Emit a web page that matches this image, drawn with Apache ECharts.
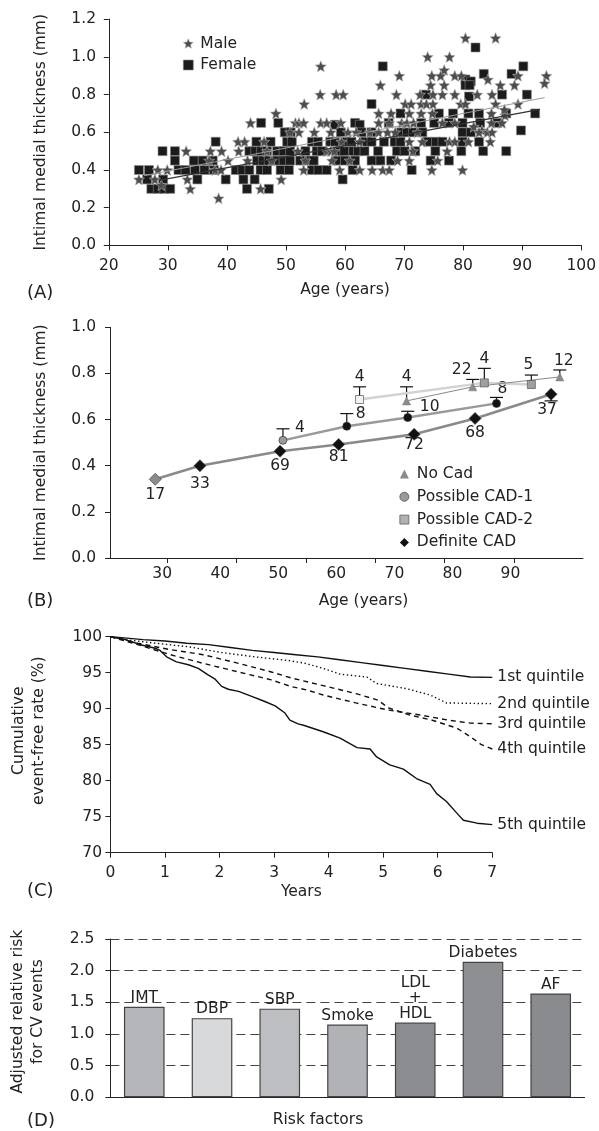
<!DOCTYPE html>
<html>
<head>
<meta charset="utf-8">
<title>Intimal medial thickness and cardiovascular risk</title>
<script src="https://cdn.jsdelivr.net/npm/echarts@6/dist/echarts.min.js"></script>
<style>
  html, body { margin: 0; padding: 0; background: #fff; }
  #chart { width: 599px; height: 1131px; }
</style>
</head>
<body>
<div id="chart"></div>
<script>
// ---------- (A) IMT against age, by sex ----------
const maleAge = [
  80.4, 85.5, 74.0, 77.7, 55.9, 76.8, 69.2, 74.7, 76.2, 78.6, 79.7, 89.3, 94.1, 84.2, 66.0, 74.5, 76.8, 86.3, 88.7, 93.8,
  55.8, 58.5, 59.7, 68.7, 72.7, 74.9, 76.5, 78.6, 82.4, 84.9,
  53.1, 70.2, 71.2, 72.9, 73.8, 74.9, 79.6, 80.4, 85.5, 89.3,
  48.3, 65.7, 67.8, 70.9, 72.9, 74.8, 84.8, 87.1, 87.0,
  44.0, 51.6, 52.2, 53.0, 55.9, 56.9, 59.3, 65.7, 67.5, 69.6, 70.5, 71.6, 76.5, 78.6, 84.8, 86.6,
  81.8, 83.2,
  50.7, 52.2, 54.8, 57.6, 60.5, 61.9, 64.2, 65.7, 67.2, 68.5, 72.3, 82.7, 84.1, 84.9,
  41.9, 43.0, 46.3, 59.4, 62.5, 70.9, 73.1, 77.7, 78.6, 80.9, 84.6,
  33.1, 37.2, 39.1, 42.0, 46.8, 52.0, 56.9, 57.6, 58.2, 71.5, 77.3,
  37.0, 40.2, 43.5, 47.6, 53.3, 57.8, 60.8, 68.9, 70.9, 75.7,
  28.3, 29.9, 38.0, 39.0, 53.0, 59.1, 62.5, 64.6, 66.4, 67.5, 74.7, 79.9,
  25.1, 27.8, 33.3, 49.2, 28.9, 33.8, 45.7, 38.6
];
const maleImt = [
  1.10, 1.10, 1.00, 1.00, 0.95, 0.93, 0.90, 0.90, 0.90, 0.90, 0.90, 0.90, 0.90, 0.88, 0.85, 0.85, 0.85, 0.85, 0.85, 0.86,
  0.80, 0.80, 0.80, 0.80, 0.80, 0.80, 0.80, 0.80, 0.80, 0.80,
  0.75, 0.75, 0.75, 0.75, 0.75, 0.75, 0.75, 0.75, 0.75, 0.75,
  0.70, 0.70, 0.70, 0.70, 0.70, 0.70, 0.70, 0.69, 0.72,
  0.65, 0.65, 0.65, 0.65, 0.65, 0.65, 0.65, 0.65, 0.65, 0.65, 0.65, 0.65, 0.65, 0.65, 0.65, 0.65,
  0.63, 0.61,
  0.60, 0.60, 0.60, 0.60, 0.60, 0.60, 0.60, 0.60, 0.60, 0.60, 0.60, 0.60, 0.60, 0.60,
  0.55, 0.55, 0.55, 0.55, 0.55, 0.55, 0.55, 0.55, 0.55, 0.55, 0.55,
  0.50, 0.50, 0.50, 0.50, 0.50, 0.50, 0.50, 0.50, 0.50, 0.50, 0.50,
  0.45, 0.45, 0.45, 0.45, 0.45, 0.45, 0.45, 0.45, 0.45, 0.45,
  0.40, 0.40, 0.40, 0.40, 0.40, 0.40, 0.40, 0.40, 0.40, 0.40, 0.40, 0.40,
  0.35, 0.35, 0.35, 0.35, 0.32, 0.30, 0.30, 0.25
];
const femaleAge = [
  82.1, 66.4, 90.2, 83.5, 88.2, 80.4, 81.3, 80.4, 81.1,
  73.7, 81.0, 86.6, 90.8, 64.5,
  69.4, 75.9, 78.3, 80.9, 82.7, 87.3, 92.2,
  45.8, 48.7, 61.7, 67.4, 72.9, 75.1, 77.6, 79.9, 82.9, 85.8, 58.3, 62.5,
  49.8, 50.8, 59.3, 62.8, 64.5, 69.5, 70.5, 71.5, 73.1, 79.9, 81.3, 89.8,
  38.1, 45.0, 47.4, 50.2, 51.0, 54.4, 55.4, 57.5, 58.3, 60.1, 61.1, 63.3, 64.5, 66.6, 68.4, 69.4, 74.0, 75.4, 76.5, 79.9, 82.7,
  29.1, 31.2, 43.8, 44.8, 45.8, 46.8, 48.5, 49.6, 50.7, 53.3, 55.2, 56.1, 58.9, 59.9, 61.4, 62.2, 63.3, 65.6, 68.8, 70.1, 71.9, 75.3, 79.7, 83.4, 87.3,
  31.2, 34.4, 35.9, 37.6, 45.1, 46.1, 47.1, 48.2, 49.6, 50.7, 52.4, 53.5, 54.7, 58.6, 60.0, 61.7, 64.5, 66.0, 67.8, 74.5, 77.6,
  25.1, 26.8, 31.8, 33.0, 34.6, 36.2, 37.8, 41.5, 42.6, 43.8, 45.7, 46.8, 49.1, 50.5, 54.4, 55.5, 56.9, 61.3, 71.3,
  26.5, 29.2, 35.0, 39.8, 42.8, 44.7, 59.6,
  27.2, 28.3, 29.4, 30.4, 43.4, 47.1
];
const femaleImt = [
  1.05, 0.95, 0.95, 0.91, 0.91, 0.88, 0.87, 0.85, 0.85,
  0.80, 0.79, 0.80, 0.80, 0.75,
  0.70, 0.70, 0.70, 0.70, 0.70, 0.70, 0.70,
  0.65, 0.65, 0.65, 0.65, 0.65, 0.65, 0.65, 0.65, 0.65, 0.65, 0.64, 0.64,
  0.60, 0.60, 0.60, 0.60, 0.60, 0.60, 0.60, 0.60, 0.60, 0.60, 0.60, 0.61,
  0.55, 0.55, 0.55, 0.55, 0.55, 0.55, 0.55, 0.55, 0.55, 0.55, 0.55, 0.55, 0.55, 0.55, 0.55, 0.55, 0.55, 0.55, 0.55, 0.55, 0.55,
  0.50, 0.50, 0.50, 0.50, 0.50, 0.50, 0.50, 0.50, 0.50, 0.50, 0.50, 0.50, 0.50, 0.50, 0.50, 0.50, 0.50, 0.50, 0.50, 0.50, 0.50, 0.50, 0.50, 0.50, 0.50,
  0.45, 0.45, 0.45, 0.45, 0.45, 0.45, 0.45, 0.45, 0.45, 0.45, 0.45, 0.45, 0.45, 0.45, 0.45, 0.45, 0.45, 0.45, 0.45, 0.45, 0.45,
  0.40, 0.40, 0.40, 0.40, 0.40, 0.40, 0.40, 0.40, 0.40, 0.40, 0.40, 0.40, 0.40, 0.40, 0.40, 0.40, 0.40, 0.40, 0.40,
  0.35, 0.35, 0.35, 0.35, 0.35, 0.35, 0.35,
  0.30, 0.30, 0.30, 0.30, 0.30, 0.30
];
// fitted regression lines (end points)
const maleFitAge = [26.0, 93.8];
const maleFitImt = [0.370, 0.784];
const femaleFitAge = [28.5, 93.0];
const femaleFitImt = [0.345, 0.722];

// ---------- (B) IMT by age group and CAD status ----------
const noCadAge = [72.1, 83.5, 98.5];
const noCadImt = [0.681, 0.742, 0.785];
const noCadBar = [0.742, 0.774, 0.815];
const noCadN = [4, 22, 12];

const cad1Age = [50.8, 61.8, 72.3, 87.6];
const cad1Imt = [0.510, 0.571, 0.609, 0.670];
const cad1Bar = [0.560, 0.626, 0.636, 0.696];
const cad1N = [4, 8, 10, 8];

const cad2Age = [64.0, 85.5, 93.6];
const cad2Imt = [0.687, 0.759, 0.752];
const cad2Bar = [0.742, 0.822, 0.793];
const cad2N = [4, 4, 5];

const defAge = [28.8, 36.5, 50.3, 60.4, 73.4, 83.9, 97.0];
const defImt = [0.341, 0.400, 0.463, 0.492, 0.536, 0.605, 0.710];
const defBar = [null, null, null, null, null, null, 0.681];
const defN = [17, 33, 69, 81, 72, 68, 37];

const ageLabelsB = [30, 40, 50, 60, 70, 80, 90];

// ---------- (C) cumulative event-free rate by IMT quintile ----------
const q1Years = [0, 0.3, 0.6, 1.0, 1.4, 1.8, 2.2, 2.6, 3.0, 3.4, 3.8, 4.2, 4.6, 5.0, 5.4, 5.8, 6.2, 6.6, 7.0];
const q1Rate  = [100, 99.8, 99.6, 99.4, 99.1, 98.9, 98.5, 98.1, 97.8, 97.5, 97.2, 96.8, 96.4, 96.0, 95.6, 95.2, 94.8, 94.4, 94.35];
const q2Years = [0, 0.27, 0.82, 1.43, 2.04, 2.65, 3.26, 3.57, 3.90, 4.21, 4.70, 4.88, 5.42, 5.86, 6.16, 7.0];
const q2Rate  = [100, 99.6, 99.1, 98.6, 97.8, 97.2, 96.7, 96.3, 95.6, 94.8, 94.4, 93.5, 92.8, 91.9, 90.8, 90.7];
const q3Years = [0, 0.5, 1.1, 1.7, 2.35, 2.95, 3.3, 3.6, 3.9, 4.5, 5.1, 5.7, 6.2, 6.6, 7.0];
const q3Rate  = [100, 98.9, 97.5, 96.3, 95.1, 94.0, 93.1, 92.6, 91.9, 90.8, 89.8, 89.1, 88.4, 88.0, 87.9];
const q4Years = [0, 0.5, 1.1, 1.7, 2.35, 2.95, 3.3, 3.9, 4.5, 4.9, 5.1, 5.5, 5.9, 6.35, 6.6, 6.8, 7.0];
const q4Rate  = [100, 99.1, 98.2, 97.5, 96.3, 95.1, 94.3, 93.2, 92.1, 91.2, 90.1, 89.1, 88.4, 87.3, 86.1, 85.0, 84.4];
const q5Years = [0, 0.27, 0.57, 0.82, 0.91, 1.03, 1.21, 1.43, 1.61, 1.79, 1.92, 2.04, 2.16, 2.35, 2.59, 2.83, 3.02, 3.20,
                 3.29, 3.44, 3.54, 3.90, 4.21, 4.52, 4.76, 4.88, 5.12, 5.37, 5.61, 5.86, 5.98, 6.16, 6.35, 6.47, 6.72, 7.0];
const q5Rate  = [100, 99.6, 98.85, 98.4, 98.1, 97.2, 96.5, 96.1, 95.6, 94.7, 94.1, 93.1, 92.7, 92.4, 91.7, 91.0, 90.4, 89.4,
                 88.4, 87.9, 87.7, 86.8, 85.9, 84.6, 84.4, 83.3, 82.2, 81.6, 80.3, 79.5, 78.2, 77.1, 75.5, 74.5, 74.1, 73.9];

// ---------- (D) adjusted relative risk ----------
const riskFactors = ['IMT', 'DBP', 'SBP', 'Smoke', 'LDL\n+\nHDL', 'Diabetes', 'AF'];
const relativeRisk = [1.43, 1.25, 1.40, 1.15, 1.18, 2.14, 1.64];

// ---------- styling ----------
const FONT = 'DejaVu Sans';
const INK = '#222';
const FS = 15.5;
const barFills = ['#b5b6b9', '#d8d9db', '#bdbec1', '#b1b2b5', '#8b8c8f', '#8e8f92', '#8a8b8e'];

// label placement for the count labels in (B): offset from the bar end (or marker)
const noCadLabelPos = [[0, -10], [-11, -9], [4, -9]];
const cad1LabelPos = [[17, -1], [14, 0], [22, -4], [6, -8]];
const cad2LabelPos = [[0, -10], [0, -9.5], [-3, -10]];
const defLabelPos = [[0, 16], [0, 18], [0, 15], [0, 12.5], [0, 11], [0, 14.5], [-4, 9]];
// tick marks of the (B) age axis
const bTickStart = 30.83, bTickStep = 11.95;
const bTicks = Array.from({ length: 7 }, (_, i) => +(bTickStart + i * bTickStep).toFixed(2));

function starPath() {
  let d = '';
  for (let i = 0; i < 10; i++) {
    const r = i % 2 ? 22.5 : 50;
    const a = (-90 + i * 36) * Math.PI / 180;
    d += (i ? 'L' : 'M') + (50 + r * Math.cos(a)).toFixed(1) + ' ' + (50 + r * Math.sin(a)).toFixed(1);
  }
  return 'path://' + d + 'Z';
}
const STAR = starPath();

const zip = (xs, ys) => xs.map((x, i) => [x, ys[i]]);

const axisLine = { show: true, onZero: false, lineStyle: { color: INK, width: 1 } };
const axisTick = { show: true, inside: false, length: 5, lineStyle: { color: INK, width: 1 } };
const labelBase = { color: INK, fontSize: FS, fontFamily: FONT };
const nameBase = { color: INK, fontSize: FS, fontFamily: FONT };

function errorBarSeries(name, ages, imt, ends, counts, placement) {
  return {
    type: 'custom', name, xAxisIndex: 1, yAxisIndex: 1, z: 2, silent: true,
    data: zip(ages, imt),
    renderItem(params, api) {
      const i = params.dataIndex;
      const p = api.coord([api.value(0), api.value(1)]);
      const children = [];
      let anchor = p;
      if (ends[i] != null) {
        const q = api.coord([api.value(0), ends[i]]);
        const st = { stroke: '#111', lineWidth: 1.2 };
        children.push({ type: 'line', shape: { x1: p[0], y1: p[1], x2: q[0], y2: q[1] }, style: st });
        children.push({ type: 'line', shape: { x1: q[0] - 6.5, y1: q[1], x2: q[0] + 6.5, y2: q[1] }, style: st });
        anchor = q;
      }
      const o = placement[i];
      children.push({
        type: 'text', x: anchor[0] + o[0], y: anchor[1] + o[1],
        style: { text: String(counts[i]), fill: INK, fontSize: FS, fontFamily: FONT, align: 'center', verticalAlign: 'middle' }
      });
      return { type: 'group', children };
    }
  };
}

function groupLine(name, ages, imt, symbol, size, firstColor, restColor, border, lineStyle) {
  return {
    type: 'line', name, xAxisIndex: 1, yAxisIndex: 1, z: 4, silent: true,
    data: zip(ages, imt), symbol, symbolSize: size, showAllSymbol: true,
    itemStyle: { color: (p) => (p.dataIndex === 0 ? firstColor : restColor), borderColor: border, borderWidth: 0.7 },
    lineStyle
  };
}

function quintile(name, years, rate, dash) {
  return {
    type: 'line', name, xAxisIndex: 2, yAxisIndex: 2, silent: true,
    data: zip(years, rate), symbol: 'none',
    lineStyle: { color: '#111', width: 1.4, type: dash },
    endLabel: { show: true, formatter: '{a}', distance: 5, color: INK, fontSize: FS, fontFamily: FONT }
  };
}

const option = {
  animation: false,
  backgroundColor: '#fff',
  textStyle: { fontFamily: FONT },
  grid: [
    { left: 108.8, top: 19.2, width: 475.8, height: 226.2 },
    { left: 110, top: 327.3, width: 473, height: 230.7 },
    { left: 110.4, top: 636.7, width: 381.9, height: 216 },
    { left: 110.4, top: 939, width: 474.2, height: 158.3 }
  ],
  xAxis: [
    { gridIndex: 0, type: 'value', min: 20, max: 100, interval: 10, axisLine, axisTick,
      axisLabel: { ...labelBase, margin: 13 }, splitLine: { show: false },
      name: 'Age (years)', nameLocation: 'middle', nameGap: 37, nameTextStyle: nameBase },
    { gridIndex: 1, type: 'value', min: 21, max: 102.5, axisLine,
      axisTick: { ...axisTick, customValues: bTicks },
      axisLabel: { ...labelBase, margin: 8, customValues: ageLabelsB }, splitLine: { show: false },
      name: 'Age (years)', nameLocation: 'middle', nameGap: 35, nameTextStyle: { ...nameBase, padding: [0, 0, 0, 34] } },
    { gridIndex: 2, type: 'value', min: 0, max: 7, interval: 1, axisLine, axisTick,
      axisLabel: { ...labelBase, margin: 12 }, splitLine: { show: false },
      name: 'Years', nameLocation: 'middle', nameGap: 31, nameTextStyle: nameBase },
    { gridIndex: 3, type: 'category', data: riskFactors, axisLine, axisTick: { show: false },
      axisLabel: { show: false }, splitLine: { show: false },
      name: 'Risk factors', nameLocation: 'middle', nameGap: 15, nameTextStyle: { ...nameBase, padding: [0, 59, 0, 0] } }
  ],
  yAxis: [
    { gridIndex: 0, type: 'value', min: 0, max: 1.2, interval: 0.2, axisLine, axisTick,
      axisLabel: { ...labelBase, margin: 12.8, formatter: (v) => v.toFixed(1) }, splitLine: { show: false },
      name: 'Intimal medial thickness (mm)', nameLocation: 'middle', nameRotate: 90, nameGap: 60, nameTextStyle: nameBase },
    { gridIndex: 1, type: 'value', min: 0, max: 1.0, interval: 0.2, axisLine, axisTick,
      axisLabel: { ...labelBase, margin: 14, formatter: (v) => v.toFixed(1) }, splitLine: { show: false },
      name: 'Intimal medial thickness (mm)', nameLocation: 'middle', nameRotate: 90, nameGap: 61, nameTextStyle: nameBase },
    { gridIndex: 2, type: 'value', min: 70, max: 100, interval: 5, axisLine, axisTick,
      axisLabel: { ...labelBase, margin: 8.4 }, splitLine: { show: false },
      name: 'Cumulative\nevent-free rate (%)', nameLocation: 'middle', nameRotate: 90, nameGap: 62,
      nameTextStyle: { ...nameBase, lineHeight: 19.5, padding: [0, 0, 0, 28] } },
    { gridIndex: 3, type: 'value', min: 0, max: 2.5, interval: 0.5, axisLine, axisTick,
      axisLabel: { ...labelBase, margin: 16, formatter: (v) => v.toFixed(1) },
      splitLine: { show: true, lineStyle: { color: '#444', width: 1, type: [9, 5] } },
      name: 'Adjusted relative risk\nfor CV events', nameLocation: 'middle', nameRotate: 90, nameGap: 62,
      nameTextStyle: { ...nameBase, lineHeight: 20, padding: [0, 0, 0, 13] } }
  ],
  legend: [
    { orient: 'vertical', left: 183, top: 35.5, padding: 0, itemWidth: 10, itemHeight: 10, itemGap: 5.5,
      selectedMode: false, textStyle: { ...labelBase, padding: [0, 0, 0, 2] },
      data: [
        { name: 'Male', icon: STAR, itemStyle: { color: '#4d4d4d', borderColor: '#b5b5b5', borderWidth: 0.6 } },
        { name: 'Female', icon: 'rect', itemStyle: { color: '#1b1b1b', borderColor: '#8a8a8a', borderWidth: 0.6 } }
      ] },
    { orient: 'vertical', left: 399.5, top: 466, padding: 0, itemWidth: 9, itemHeight: 9, itemGap: 6.8,
      selectedMode: false, textStyle: { ...labelBase, padding: [0, 0, 0, 3] },
      data: [
        { name: 'No Cad', icon: 'triangle', itemStyle: { color: '#8a8a8a', borderWidth: 0 } },
        { name: 'Possible CAD-1', icon: 'circle', itemStyle: { color: '#9a9a9a', borderColor: '#444', borderWidth: 0.7 } },
        { name: 'Possible CAD-2', icon: 'rect', itemStyle: { color: '#b0b0b0', borderColor: '#555', borderWidth: 0.7 } },
        { name: 'Definite CAD', icon: 'diamond', itemStyle: { color: '#111', borderWidth: 0 } }
      ] }
  ],
  graphic: [
    { type: 'text', left: 27, top: 284, style: { text: '(A)', fill: INK, fontSize: 18, fontFamily: FONT } },
    { type: 'text', left: 27, top: 592, style: { text: '(B)', fill: INK, fontSize: 18, fontFamily: FONT } },
    { type: 'text', left: 27, top: 882, style: { text: '(C)', fill: INK, fontSize: 18, fontFamily: FONT } },
    { type: 'text', left: 27, top: 1112, style: { text: '(D)', fill: INK, fontSize: 18, fontFamily: FONT } }
  ],
  series: [
    // (A)
    { type: 'scatter', name: 'Female', xAxisIndex: 0, yAxisIndex: 0, z: 2, silent: true,
      data: zip(femaleAge, femaleImt), symbol: 'rect', symbolSize: 9,
      itemStyle: { color: '#1b1b1b', borderColor: '#8a8a8a', borderWidth: 0.6, opacity: 1 } },
    { type: 'scatter', name: 'Male', xAxisIndex: 0, yAxisIndex: 0, z: 3, silent: true,
      data: zip(maleAge, maleImt), symbol: STAR, symbolSize: 11,
      itemStyle: { color: '#4d4d4d', borderColor: '#b5b5b5', borderWidth: 0.6, opacity: 1 } },
    { type: 'line', name: 'Male fit', xAxisIndex: 0, yAxisIndex: 0, z: 4, silent: true,
      data: zip(maleFitAge, maleFitImt), symbol: 'none', lineStyle: { color: '#9a9a9a', width: 1 } },
    { type: 'line', name: 'Female fit', xAxisIndex: 0, yAxisIndex: 0, z: 4, silent: true,
      data: zip(femaleFitAge, femaleFitImt), symbol: 'none', lineStyle: { color: '#333', width: 1.2 } },

    // (B)
    errorBarSeries('No Cad bars', noCadAge, noCadImt, noCadBar, noCadN, noCadLabelPos),
    errorBarSeries('CAD-1 bars', cad1Age, cad1Imt, cad1Bar, cad1N, cad1LabelPos),
    errorBarSeries('CAD-2 bars', cad2Age, cad2Imt, cad2Bar, cad2N, cad2LabelPos),
    errorBarSeries('Definite bars', defAge, defImt, defBar, defN, defLabelPos),
    groupLine('Definite CAD', defAge, defImt, 'diamond', 12, '#8c8c8c', '#111', '#444', { color: '#8a8a8a', width: 2.6 }),
    groupLine('Possible CAD-1', cad1Age, cad1Imt, 'circle', 8, '#9a9a9a', '#111', '#333', { color: '#999', width: 2.4 }),
    groupLine('Possible CAD-2', cad2Age, cad2Imt, 'rect', 8, '#f2f2f2', '#a0a0a0', '#555', { color: '#d2d2d2', width: 2.4 }),
    groupLine('No Cad', noCadAge, noCadImt, 'triangle', 8, '#8a8a8a', '#8a8a8a', '#8a8a8a', { color: '#888', width: 1 }),

    // (C)
    quintile('1st quintile', q1Years, q1Rate, 'solid'),
    quintile('2nd quintile', q2Years, q2Rate, [1.4, 2.6]),
    quintile('3rd quintile', q3Years, q3Rate, [5, 4]),
    quintile('4th quintile', q4Years, q4Rate, [5, 4]),
    quintile('5th quintile', q5Years, q5Rate, 'solid'),

    // (D)
    { type: 'bar', name: 'Relative risk', xAxisIndex: 3, yAxisIndex: 3, silent: true,
      data: relativeRisk, barWidth: '60%',
      itemStyle: { color: (p) => barFills[p.dataIndex], borderColor: '#444', borderWidth: 1.2 },
      label: { show: true, position: 'top', distance: 1, formatter: '{b}', color: INK,
               fontSize: FS, fontFamily: FONT, lineHeight: 15.5 } }
  ]
};

const chart = echarts.init(document.getElementById('chart'), null, { renderer: 'canvas' });
chart.setOption(option);
</script>
</body>
</html>
